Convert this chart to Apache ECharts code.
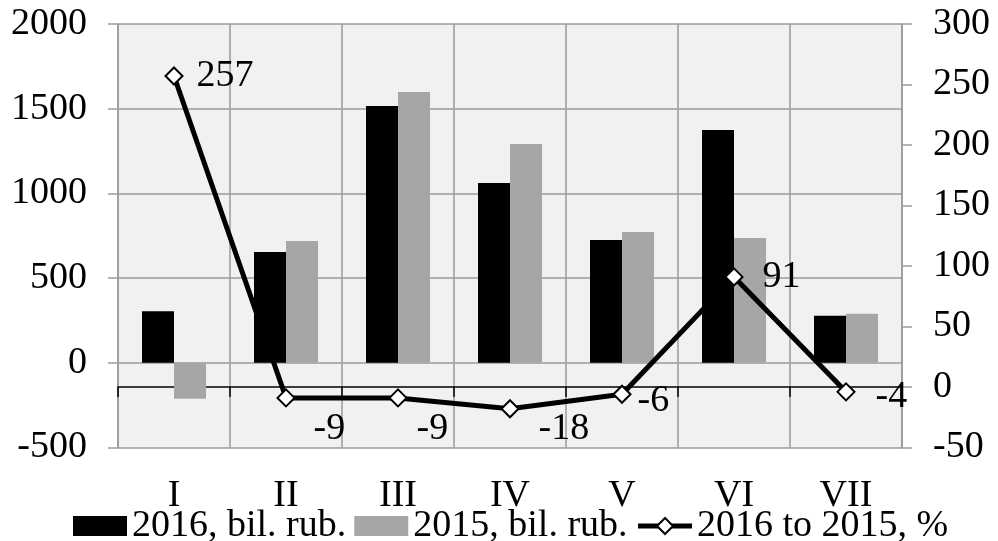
<!DOCTYPE html>
<html><head><meta charset="utf-8">
<script src="https://cdn.jsdelivr.net/npm/echarts@6/dist/echarts.min.js"></script>
<style>html,body{margin:0;padding:0;background:#fff}#c{width:998px;height:541px}</style>
</head><body><div id="c"></div>
<script>
const categories = ['I','II','III','IV','V','VI','VII'];
const values2016 = [304, 654, 1516, 1061, 725, 1374, 278];
const values2015 = [-212, 719, 1598, 1292, 772, 737, 290];
const ratioPct = [257, -9, -9, -18, -6, 91, -4];
const leftTicks = {min: -500, max: 2000, interval: 500};
const rightTicks = {min: -50, max: 300, interval: 50};
const seriesNames = ['2016, bil. rub.', '2015, bil. rub.', '2016 to 2015, %'];

// label offsets (style only)
const labelOffsets = [[8,0],[13,31],[4,31],[14,20],[1,7],[14,0],[15,5]];

const FONT = 'Liberation Serif';
const FS = 38;
const GRID_C = '#9a9a9a';
const plain = v => String(v);

const chart = echarts.init(document.getElementById('c'), null, {renderer: 'canvas'});
chart.setOption({
  animation: false,
  textStyle: {fontFamily: FONT, color: '#000'},
  grid: {left: 118, right: 96, top: 24, bottom: 93.5, show: true, backgroundColor: '#f1f1f1', borderWidth: 0},
  legend: {
    top: 502, left: 68, itemWidth: 54, itemHeight: 20, itemGap: 8,
    textStyle: {fontFamily: FONT, fontSize: FS, color: '#000'},
    lineStyle: {width: 5},
    data: [
      {name: seriesNames[0], icon: 'rect'},
      {name: seriesNames[1], icon: 'rect'},
      {name: seriesNames[2]}
    ]
  },
  xAxis: [{
    type: 'category', data: categories, position: 'bottom',
    axisLine: {show: false, onZero: false},
    axisTick: {show: false},
    splitLine: {show: true, lineStyle: {color: GRID_C, width: 1.5}},
    axisLabel: {fontFamily: FONT, fontSize: FS, color: '#000', margin: 30}
  }, {
    type: 'category', data: categories, position: 'bottom',
    axisLine: {show: true, onZero: true, onZeroAxisIndex: 1, lineStyle: {color: '#000', width: 1.5}},
    axisTick: {show: true, length: 10, lineStyle: {color: '#000', width: 1.5}},
    axisLabel: {show: false},
    splitLine: {show: false}
  }],
  yAxis: [{
    type: 'value', position: 'left', min: leftTicks.min, max: leftTicks.max, interval: leftTicks.interval,
    axisLine: {show: true, lineStyle: {color: GRID_C, width: 1.5}},
    axisTick: {show: true, length: 10, lineStyle: {color: GRID_C, width: 1.5}},
    splitLine: {show: true, lineStyle: {color: GRID_C, width: 1.5}},
    axisLabel: {fontFamily: FONT, fontSize: FS, color: '#000', margin: 31, formatter: plain}
  }, {
    type: 'value', position: 'right', min: rightTicks.min, max: rightTicks.max, interval: rightTicks.interval,
    axisLine: {show: true, lineStyle: {color: GRID_C, width: 1.5}},
    axisTick: {show: true, length: 10, lineStyle: {color: GRID_C, width: 1.5}},
    splitLine: {show: false},
    axisLabel: {fontFamily: FONT, fontSize: FS, color: '#000', margin: 31, formatter: plain}
  }],
  series: [{
    name: seriesNames[0], type: 'bar', xAxisIndex: 0, yAxisIndex: 0,
    data: values2016, barWidth: 32, barGap: '0%',
    itemStyle: {color: '#000'}
  }, {
    name: seriesNames[1], type: 'bar', xAxisIndex: 0, yAxisIndex: 0,
    data: values2015, barWidth: 32, barGap: '0%',
    itemStyle: {color: '#a6a6a6'}
  }, {
    name: seriesNames[2], type: 'line', xAxisIndex: 0, yAxisIndex: 1,
    data: ratioPct.map((v, i) => ({value: v, label: {offset: labelOffsets[i]}})),
    symbol: 'diamond', symbolSize: 17, showAllSymbol: true,
    lineStyle: {color: '#000', width: 5},
    itemStyle: {color: '#fff', borderColor: '#000', borderWidth: 2},
    label: {show: true, position: 'right', distance: 5, fontFamily: FONT, fontSize: FS, color: '#000', formatter: p => plain(p.value)},
    z: 5
  }]
});
</script></body></html>
